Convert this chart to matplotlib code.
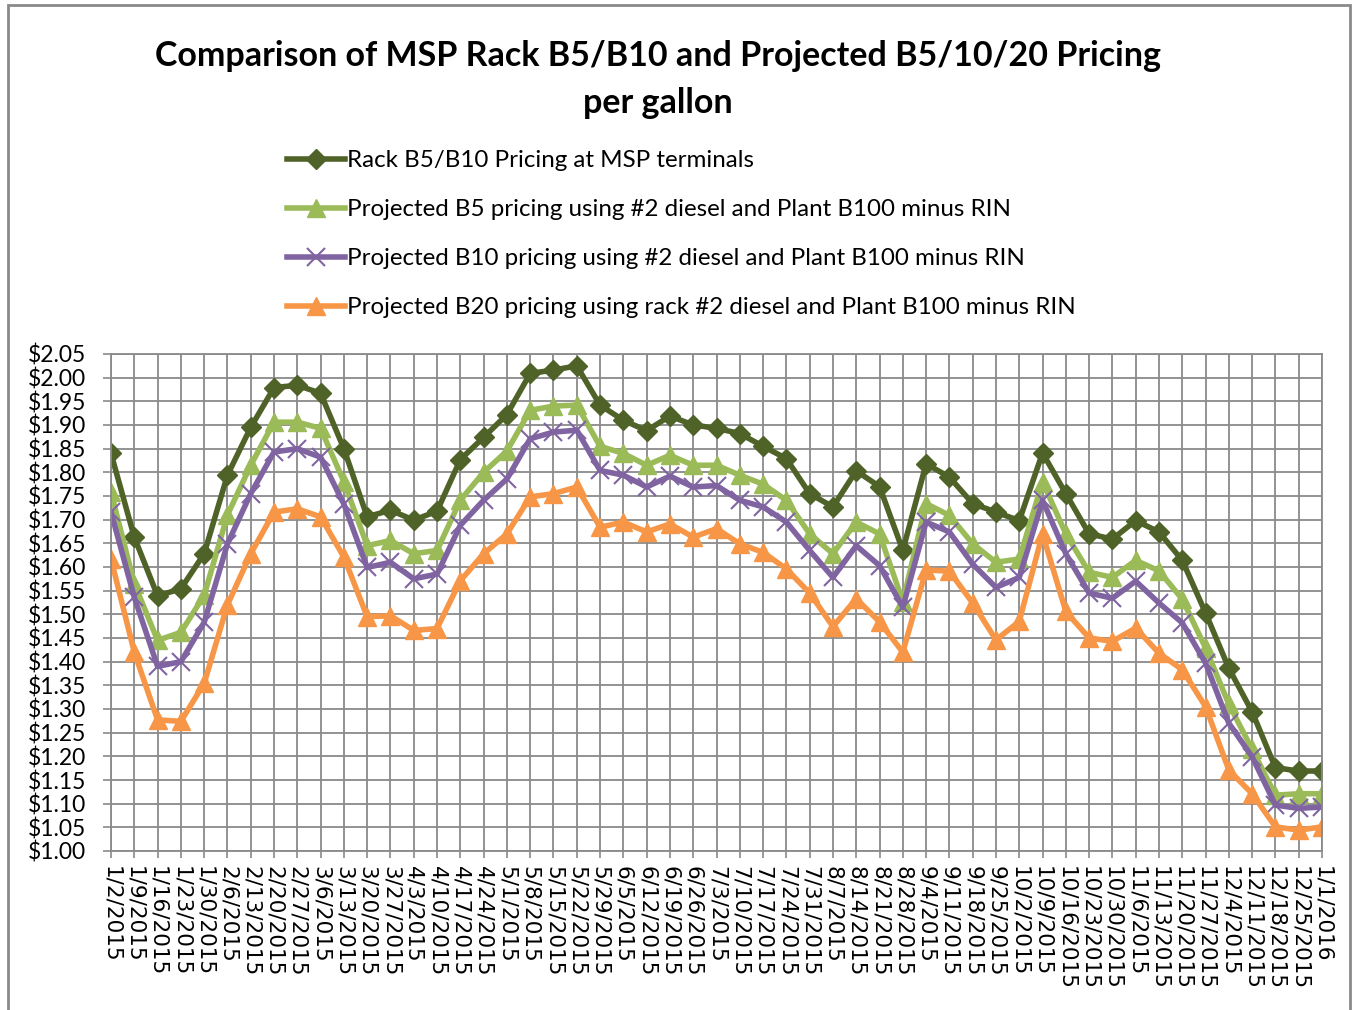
import matplotlib
matplotlib.use("Agg")
import matplotlib.pyplot as plt
from matplotlib.patches import Rectangle

# Fechas semanales (etiquetas del eje X)
fechas = ["1/2/2015", "1/9/2015", "1/16/2015", "1/23/2015", "1/30/2015", "2/6/2015",
          "2/13/2015", "2/20/2015", "2/27/2015", "3/6/2015", "3/13/2015", "3/20/2015",
          "3/27/2015", "4/3/2015", "4/10/2015", "4/17/2015", "4/24/2015", "5/1/2015",
          "5/8/2015", "5/15/2015", "5/22/2015", "5/29/2015", "6/5/2015", "6/12/2015",
          "6/19/2015", "6/26/2015", "7/3/2015", "7/10/2015", "7/17/2015", "7/24/2015",
          "7/31/2015", "8/7/2015", "8/14/2015", "8/21/2015", "8/28/2015", "9/4/2015",
          "9/11/2015", "9/18/2015", "9/25/2015", "10/2/2015", "10/9/2015", "10/16/2015",
          "10/23/2015", "10/30/2015", "11/6/2015", "11/13/2015", "11/20/2015",
          "11/27/2015", "12/4/2015", "12/11/2015", "12/18/2015", "12/25/2015", "1/1/2016"]

# Series de precios ($/galon)
rack = [1.84, 1.663, 1.539, 1.554, 1.628, 1.794, 1.895, 1.979, 1.984, 1.967,
        1.85, 1.706, 1.72, 1.699, 1.718, 1.827, 1.874, 1.922, 2.009, 2.016,
        2.025, 1.942, 1.91, 1.888, 1.919, 1.90, 1.893, 1.882, 1.855, 1.829,
        1.755, 1.727, 1.803, 1.77, 1.635, 1.818, 1.79, 1.734, 1.716, 1.698,
        1.841, 1.755, 1.67, 1.659, 1.698, 1.674, 1.614, 1.503, 1.386, 1.294,
        1.176, 1.169, 1.169]
b5 = [1.758, 1.565, 1.445, 1.462, 1.54, 1.71, 1.815, 1.906, 1.906, 1.893,
      1.78, 1.645, 1.656, 1.628, 1.635, 1.741, 1.80, 1.845, 1.931, 1.94,
      1.942, 1.855, 1.84, 1.815, 1.836, 1.815, 1.815, 1.794, 1.775, 1.741,
      1.67, 1.628, 1.695, 1.67, 1.527, 1.734, 1.709, 1.649, 1.61, 1.617,
      1.78, 1.67, 1.589, 1.578, 1.614, 1.592, 1.532, 1.429, 1.31, 1.215,
      1.118, 1.121, 1.121]
b10 = [1.716, 1.536, 1.39, 1.40, 1.483, 1.649, 1.755, 1.843, 1.85, 1.832,
       1.733, 1.599, 1.61, 1.575, 1.585, 1.688, 1.741, 1.786, 1.871, 1.885,
       1.889, 1.804, 1.794, 1.769, 1.792, 1.769, 1.772, 1.741, 1.727, 1.695,
       1.635, 1.578, 1.645, 1.603, 1.515, 1.695, 1.674, 1.606, 1.557, 1.578,
       1.741, 1.628, 1.545, 1.534, 1.57, 1.524, 1.482, 1.397, 1.27, 1.199,
       1.097, 1.09, 1.093]
b20 = [1.617, 1.42, 1.277, 1.274, 1.354, 1.52, 1.628, 1.716, 1.723, 1.706,
       1.621, 1.495, 1.497, 1.466, 1.47, 1.571, 1.628, 1.67, 1.748, 1.755,
       1.769, 1.684, 1.695, 1.674, 1.691, 1.663, 1.681, 1.649, 1.631, 1.596,
       1.545, 1.474, 1.533, 1.484, 1.42, 1.594, 1.591, 1.524, 1.446, 1.485,
       1.67, 1.506, 1.45, 1.443, 1.471, 1.418, 1.383, 1.305, 1.171, 1.121,
       1.051, 1.044, 1.051]

etiquetas = ["Rack B5/B10 Pricing at MSP terminals",
             "Projected B5 pricing using #2 diesel and Plant B100 minus RIN",
             "Projected B10 pricing using #2 diesel and Plant B100 minus RIN",
             "Projected B20 pricing using rack #2 diesel and Plant B100 minus RIN"]

y_ticks = [1.00 + 0.05 * i for i in range(22)]

gris = "#8a8a8a"
fuente = "Lato"

# Figura y area de trazado
fig = plt.figure(figsize=(13.54, 10.10), dpi=100)
ax = fig.add_axes([111 / 1354, 1 - 851 / 1010, (1322 - 111) / 1354, (851 - 354) / 1010])

x = list(range(len(fechas)))
ax.plot(x, rack, color="#4F6228", lw=4, marker="D", ms=10, label=etiquetas[0])
ax.plot(x, b5, color="#9BBB59", lw=4, marker="^", ms=13, label=etiquetas[1])
ax.plot(x, b10, color="#8064A2", lw=4, marker="x", ms=13, mew=1.5, label=etiquetas[2])
ax.plot(x, b20, color="#F79646", lw=4, marker="^", ms=13, label=etiquetas[3])

# Ejes
ax.set_xlim(0, len(fechas) - 1)
ax.set_ylim(1.00, 2.05)
ax.set_xticks(x)
ax.set_xticklabels(fechas, rotation=270, ha="center", va="top",
                   fontsize=15.5, family="DejaVu Sans")
ax.set_yticks(y_ticks)
ax.set_yticklabels(["${:.2f}".format(v) for v in y_ticks], fontsize=16.5, family=fuente)
ax.tick_params(axis="y", length=6, width=1.2, color=gris, pad=12)
ax.tick_params(axis="x", length=5, width=1.2, color=gris, pad=6)

# Cuadricula
ax.grid(True, color=gris, lw=1.3)
ax.set_axisbelow(True)
for s in ax.spines.values():
    s.set_color(gris)
    s.set_linewidth(1.3)

# Titulo
fig.text(658 / 1354, 1 - 40 / 1010,
         "Comparison of MSP Rack B5/B10 and Projected B5/10/20 Pricing\nper gallon",
         ha="center", va="top", fontsize=24.5, fontweight="bold", family=fuente,
         linespacing=1.57)

# Leyenda
fig.legend(loc="upper left", bbox_to_anchor=(287 / 1354, 1 - 150 / 1010),
           frameon=False, prop={"family": fuente, "size": 17.4},
           handlelength=2.4, handletextpad=0.1, labelspacing=1.16,
           borderpad=0, borderaxespad=0)

# Borde exterior del grafico
fig.patches.append(Rectangle((8 / 1354, -0.05), (1350 - 8) / 1354, 1.05 - 5 / 1010,
                             transform=fig.transFigure, fill=False,
                             edgecolor=gris, lw=2))

fig.savefig("out.png", dpi=100)
